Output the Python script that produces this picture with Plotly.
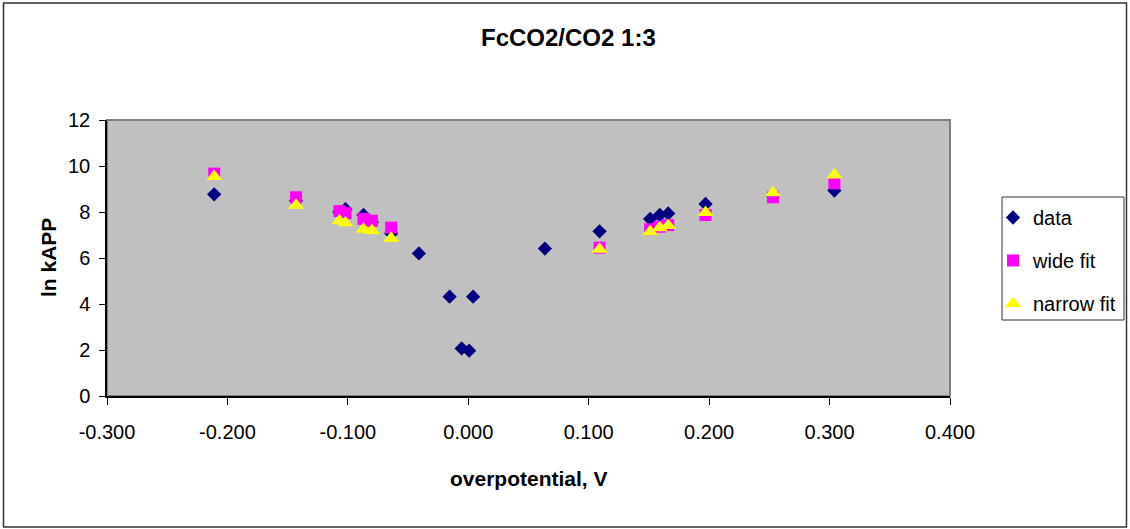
import plotly.graph_objects as go

# ---- data ----
data_x = [-0.211, -0.143, -0.107, -0.102, -0.087, -0.080, -0.064, -0.041, -0.0155,
          -0.0055, 0.0007, 0.004, 0.0636, 0.109, 0.151, 0.159, 0.166, 0.197, 0.253, 0.304]
data_y = [8.77, 8.49, 8.00, 8.12, 7.87, 7.55, 7.07, 6.20, 4.32,
          2.07, 1.97, 4.32, 6.41, 7.16, 7.70, 7.87, 7.94, 8.35, 8.70, 8.93]

fit_x = [-0.211, -0.143, -0.107, -0.102, -0.087, -0.080, -0.064,
         0.109, 0.151, 0.159, 0.166, 0.197, 0.253, 0.304]
wide_y = [9.67, 8.64, 8.04, 7.95, 7.70, 7.62, 7.32,
          6.45, 7.25, 7.36, 7.43, 7.87, 8.64, 9.25]
narrow_y = [9.54, 8.29, 7.62, 7.53, 7.25, 7.20, 6.86,
            6.38, 7.14, 7.32, 7.41, 7.98, 8.84, 9.61]

x_tick_vals = [-0.3, -0.2, -0.1, 0.0, 0.1, 0.2, 0.3, 0.4]
x_tick_labels = ["-0.300", "-0.200", "-0.100", "0.000", "0.100", "0.200", "0.300", "0.400"]
y_tick_vals = [0, 2, 4, 6, 8, 10, 12]

FONT = "Liberation Sans, Arial, sans-serif"

fig = go.Figure()
fig.add_trace(go.Scatter(x=data_x, y=data_y, mode="markers", name="data",
                         legendgroup="a",
                         marker=dict(symbol="diamond", size=11, color="#000080",
                                     line=dict(width=0))))
fig.add_trace(go.Scatter(x=fit_x, y=wide_y, mode="markers", name="wide fit",
                         legendgroup="b",
                         marker=dict(symbol="square", size=12, color="#FF00FF",
                                     line=dict(width=0))))
fig.add_trace(go.Scatter(x=fit_x, y=narrow_y, mode="markers", name="narrow fit",
                         legendgroup="c",
                         marker=dict(symbol="triangle-up", size=14, color="#FFFF00",
                                     line=dict(width=0))))

W, H = 1130, 529
L, R, T, B = 107, 180, 120, 133
pw, ph = W - L - R, H - T - B

def px2paper_x(px):
    return (px - L) / pw

def px2paper_y(py):
    return (H - B - py) / ph

fig.update_layout(
    width=W, height=H,
    margin=dict(l=L, r=R, t=T, b=B, pad=0, autoexpand=False),
    paper_bgcolor="white",
    plot_bgcolor="#C0C0C0",
    font=dict(family=FONT, size=20, color="black"),
    title=dict(text="<b>FcCO2/CO2 1:3</b>", x=0.503, xref="container",
               xanchor="center", y=1 - 38 / H, yref="container", yanchor="middle",
               font=dict(family=FONT, size=24, color="black")),
    showlegend=True,
    legend=dict(x=px2paper_x(993), y=px2paper_y(198), xanchor="left", yanchor="top",
                borderwidth=0, bgcolor="rgba(0,0,0,0)",
                font=dict(family=FONT, size=20, color="black"),
                traceorder="grouped", tracegroupgap=14, itemwidth=30),
    xaxis=dict(range=[-0.3, 0.4], tickvals=x_tick_vals, ticktext=x_tick_labels,
               showgrid=False, zeroline=False, showline=True, linecolor="black",
               linewidth=1.5, ticks="outside", ticklen=7, tickcolor="black",
               tickwidth=1, ticklabelstandoff=10,
               tickfont=dict(family=FONT, size=20, color="black")),
    yaxis=dict(range=[0, 12], tickvals=y_tick_vals,
               showgrid=False, zeroline=False, showline=True, linecolor="black",
               linewidth=1.5, ticks="outside", ticklen=6, tickcolor="black",
               tickwidth=1, ticklabelstandoff=5,
               tickfont=dict(family=FONT, size=20, color="black")),
    shapes=[
        # plot-area frame (gray on top/right)
        dict(type="rect", xref="paper", yref="paper", x0=0, y0=0, x1=1, y1=1,
             line=dict(color="#808080", width=2), layer="below"),
        # outer chart border
        dict(type="rect", xref="paper", yref="paper",
             x0=px2paper_x(3.5), x1=px2paper_x(1126.5),
             y0=px2paper_y(527), y1=px2paper_y(3),
             line=dict(color="#333333", width=1.5), layer="above"),
        # legend box
        dict(type="rect", xref="paper", yref="paper",
             x0=px2paper_x(1002), x1=px2paper_x(1124),
             y0=px2paper_y(320), y1=px2paper_y(197),
             line=dict(color="#333333", width=1), layer="above"),
    ],
    annotations=[
        dict(text="<b>ln kAPP</b>", xref="paper", yref="paper",
             x=px2paper_x(48), y=0.5, xanchor="center", yanchor="middle",
             textangle=-90, showarrow=False,
             font=dict(family=FONT, size=21, color="black")),
        dict(text="<b>overpotential, V</b>", xref="paper", yref="paper",
             x=0.5, y=px2paper_y(478), xanchor="center", yanchor="middle",
             showarrow=False, font=dict(family=FONT, size=21, color="black")),
    ],
)

fig.write_html("out.html")
